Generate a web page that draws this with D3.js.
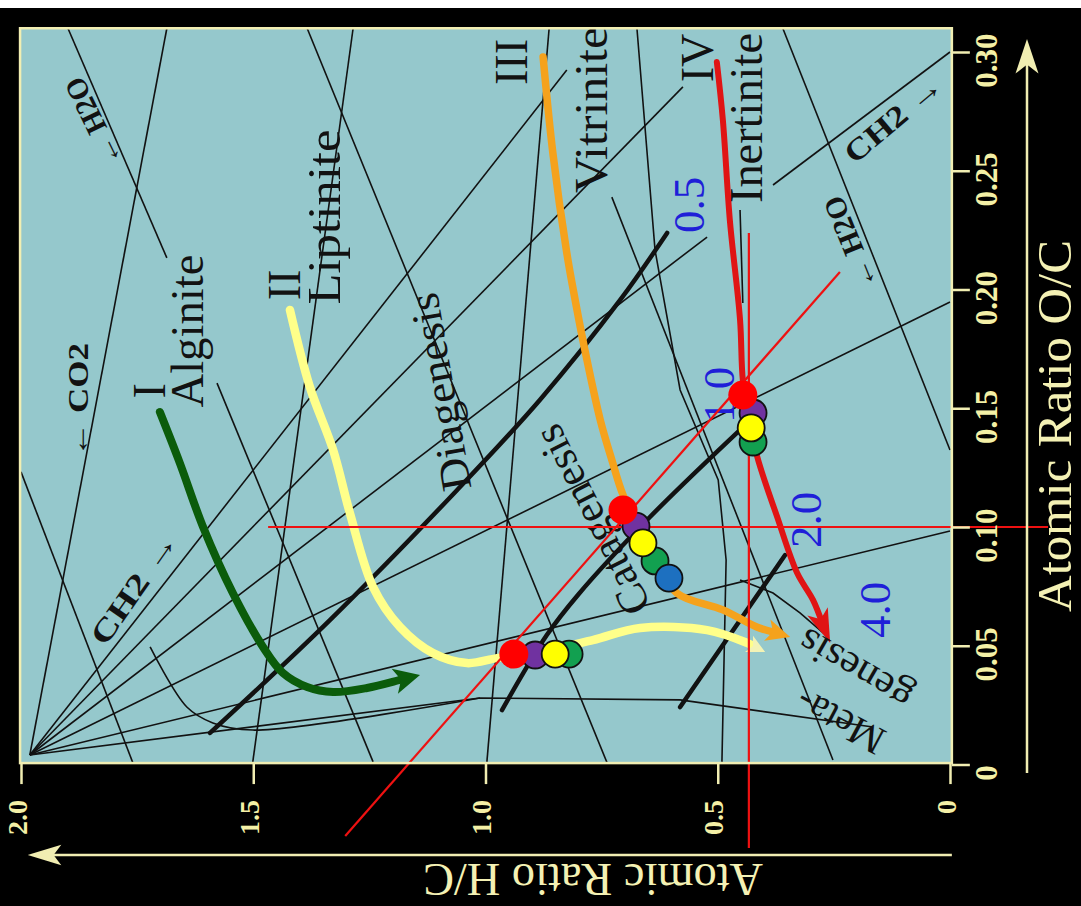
<!DOCTYPE html>
<html>
<head>
<meta charset="utf-8">
<script src="https://cdn.jsdelivr.net/npm/d3@7/dist/d3.min.js"></script>
<style>
html,body{margin:0;padding:0;background:#000;overflow:hidden;}
svg{display:block;}
</style>
</head>
<body>
<svg id="chart" width="1081" height="906"></svg>
<script>
// ================= DATA (atomic ratios [H/C, O/C]) =================
const hcTicks = [2.0, 1.5, 1.0, 0.5, 0];
const hcTickLabels = ["2.0", "1.5", "1.0", "0.5", "0"];
const ocTicks = [0, 0.05, 0.10, 0.15, 0.20, 0.25, 0.30];
const ocTickLabels = ["0", "0.05", "0.10", "0.15", "0.20", "0.25", "0.30"];
const axisTitles = ["Atomic Ratio H/C", "Atomic Ratio O/C"];

// kerogen evolution paths
const typeI   = [[1.701,0.1484],[1.658,0.1269],[1.608,0.1000],[1.544,0.0722],[1.479,0.0495],[1.436,0.0385],[1.384,0.0326],[1.328,0.0305],[1.255,0.0322],[1.184,0.0356],[1.141,0.0377]];
const typeII  = [[1.421,0.1914],[1.378,0.1589],[1.328,0.1324],[1.292,0.1059],[1.242,0.0747],[1.184,0.0579],[1.113,0.0469],[1.040,0.0427],[0.975,0.0448],[0.883,0.0474],[0.769,0.0524],[0.667,0.0575],[0.523,0.0566],[0.437,0.0512],[0.398,0.0474]];
const typeIII = [[0.876,0.2979],[0.855,0.2575],[0.825,0.2154],[0.807,0.1956],[0.786,0.1745],[0.753,0.1451],[0.728,0.1282],[0.704,0.1135],[0.667,0.0987],[0.624,0.0840],[0.588,0.0722],[0.489,0.0651],[0.416,0.0579],[0.344,0.0537]];
const typeIV  = [[0.502,0.2958],[0.489,0.2714],[0.474,0.2293],[0.452,0.1872],[0.446,0.1619],[0.435,0.1493],[0.416,0.1303],[0.372,0.1042],[0.329,0.0806],[0.295,0.0693],[0.258,0.0512]];
const kerogenTypes = ["I", "II", "III", "IV"];
const macerals = ["Alginite", "Liptinite", "Vitrinite", "Inertinite"];

// vitrinite reflectance iso-lines
const ro05 = [[1.593,0.0133],[1.335,0.0608],[1.061,0.1156],[0.883,0.1535],[0.710,0.1956],[0.609,0.2238]];
const ro10 = [[0.9645,0.0229],[0.868,0.0545],[0.801,0.0714],[0.646,0.1042],[0.441,0.1429]];
const ro20 = [[0.581,0.0242],[0.355,0.0882]];
const roLabels = ["0.5", "1.0", "2.0", "4.0"];
const roLabelAt = [[0.560,0.2356],[0.497,0.1556],[0.310,0.1030],[0.161,0.0651]];

// background reference lines of the diagram
const fanOrigin = [1.981, 0.004];
const fanEnds = [[1.686,0.310],[0.825,0.2924],[0.575,0.2853],[0.523,0.2221],[0,0.1947],[0,0.0983]];
const boundaryLine = [[1.981,0.004],[1.012,0.028],[0.581,0.0272],[0.166,0.0158]];
const metaCurve = [[1.722,0.0495],[1.643,0.0242],[1.587,0.0175],[1.501,0.0145],[1.012,0.028]];
const refLines = [
  [[1.899,0.310],[1.686,0.2133]],
  [[2.000,0.1232],[1.759,0.0006]],
  [[1.578,0.1606],[1.242,0.0011]],
  [[1.384,0.310],[0.738,0.0006]],
  [[0.728,0.2389],[0.252,0.0019]],
  [[1.501,0.0011],[1.285,0.310]],
  [[0.997,0.0011],[0.863,0.310]],
  [[0.674,0.310],[0.635,0.2166],[0.581,0.1577],[0.499,0.1198],[0.482,0.0861],[0.491,0.0011]],
  [[0.360,0.310],[0,0.1324]],
  [[0.381,0.2440],[0,0.300]],
  [[0.452,0.2335],[0.446,0.1943]],
  [[0.452,0.0777],[0.381,0.0722],[0.323,0.0638],[0.273,0.0554]]
];

// sample points
const purpleDots = [[0.893,0.0461],[0.676,0.1004],[0.424,0.1480]];
const greenDots  = [[0.820,0.0465],[0.635,0.0857],[0.424,0.1358]];
const blueDots   = [[0.605,0.0785]];
const yellowDots = [[0.850,0.0465],[0.661,0.0933],[0.428,0.1417]];
const redDots    = [[0.939,0.0465],[0.704,0.1072],[0.446,0.1556]];

// red construction lines
const redGuides = [
  [[0.433,0.2238],[0.433,-0.0352]],
  [[1.468,0.1000],[-0.211,0.1000]],
  [[1.302,-0.0301],[0.237,0.2074]]
];

// text annotations (anchor points in H/C, O/C)
const typeLabelAt    = [[1.690,0.1573],[1.399,0.2019],[0.911,0.2958],[0.510,0.2975]];
const maceralLabelAt = [[1.608,0.1825],[1.313,0.2305],[0.738,0.2756],[0.405,0.2722]];
const stageLabels    = ["Diagenesis", "Catagenesis", "Meta-", "genesis"];
const stageLabelAt   = [[1.098,0.1568],[0.771,0.1029],[0.2368,0.0179],[0.2045,0.0398]];
const pathLabels     = ["\u2190 CO2", "CH2 \u2192", "\u2190 H2O", "CH2 \u2192", "\u2190 H2O"];
const pathLabelAt    = [[1.879,0.1535],[1.757,0.0743],[1.845,0.2705],[0.1227,0.2719],[0.2153,0.2196]];

// ================= LAYOUT / STYLE =================
const PALE = "#f1eeb2", TICKC = "#f4f0a6", PANEL = "#95c8cc", INK = "#121212";
const SERIF = "'Liberation Serif','Times New Roman',serif";
const maceralLen = [153, 175, 166, 170];
const stageAngle = [-100, -117, -152, -150], stageLen = [200, 207, 95, 125];
const pathAngle = [-90, -55, -116, -40, -112], pathLen = [114, 130, 95, 118, 98];

const svg = d3.select("#chart");
const x = d3.scaleLinear().domain([2.0, 0]).range([21, 950]);
const y = d3.scaleLinear().domain([0, 0.30]).range([764.5, 52]);
const P = d => [x(d[0]), y(d[1])];
const line = d3.line().x(d => x(d[0])).y(d => y(d[1]));
const smoothPx = d3.line().curve(d3.curveCatmullRom.alpha(0.5));

svg.append("rect").attr("width", 1081).attr("height", 906).attr("fill", "#000");
svg.append("rect").attr("width", 1081).attr("height", 8).attr("fill", "#fff");

const px0 = x(2.002), px1 = x(-0.004), py0 = y(0.310), py1 = y(0.0006);
svg.append("rect").attr("x", px0).attr("y", py0).attr("width", px1 - px0).attr("height", py1 - py0).attr("fill", PANEL);
svg.append("clipPath").attr("id", "pc").append("rect")
  .attr("x", px0).attr("y", py0).attr("width", px1 - px0).attr("height", py1 - py0);

const plot = svg.append("g").attr("clip-path", "url(#pc)");

// thin reference lines
const thin = plot.append("g").attr("fill", "none").attr("stroke", INK).attr("stroke-width", 1.6);
fanEnds.forEach(e => thin.append("path").attr("d", line([fanOrigin, e])));
thin.append("path").attr("d", line(boundaryLine));
thin.append("path").attr("d", d3.line().x(d => x(d[0])).y(d => y(d[1])).curve(d3.curveCatmullRom)(metaCurve));
refLines.forEach(l => thin.append("path").attr("d", line(l)));

// thick reflectance lines
const thick = plot.append("g").attr("fill", "none").attr("stroke", INK).attr("stroke-width", 4.5).attr("stroke-linecap", "round");
[ro05, ro10, ro20].forEach(l => thick.append("path")
  .attr("d", d3.line().x(d => x(d[0])).y(d => y(d[1])).curve(d3.curveCatmullRom)(l)));

// labels
function rotText(g, txt, pt, angle, size, len, baseline, color, weight) {
  const t = g.append("text")
    .attr("transform", `translate(${x(pt[0])},${y(pt[1])}) rotate(${angle})`)
    .attr("text-anchor", "middle")
    .attr("dominant-baseline", baseline)
    .attr("fill", color)
    .style("font-family", SERIF).style("font-size", size + "px").style("font-weight", weight || "normal")
    .text(txt);
  if (len) t.attr("textLength", len).attr("lengthAdjust", "spacingAndGlyphs");
  return t;
}
const lab = svg.append("g");
kerogenTypes.forEach((t, i) => rotText(lab, t, typeLabelAt[i], -90, 46, null, "alphabetic", INK));
macerals.forEach((t, i) => rotText(lab, t, maceralLabelAt[i], -90, 46, maceralLen[i], "alphabetic", INK));
stageLabels.forEach((t, i) => rotText(lab, t, stageLabelAt[i], stageAngle[i], i < 2 ? 43 : 40, stageLen[i], "central", INK));
pathLabels.forEach((t, i) => rotText(lab, t, pathLabelAt[i], pathAngle[i], 30, pathLen[i], "central", INK, "bold"));
roLabels.forEach((t, i) => rotText(lab, t, roLabelAt[i], -90, 44, 56, "central", "#1f1fd8"));

// kerogen paths with arrowheads
function pathWithArrow(g, pts, color, width, len, half, headColor) {
  const s = pts.map(P);
  const n = s.length;
  const [tx, ty] = s[n - 1], [qx, qy] = s[n - 2];
  let dx = tx - qx, dy = ty - qy; const L = Math.hypot(dx, dy); dx /= L; dy /= L;
  const bx = tx - dx * len * 0.6, by = ty - dy * len * 0.6;
  const body = s.slice(0, n - 1).concat([[bx, by]]);
  g.append("path").attr("d", smoothPx(body)).attr("fill", "none").attr("stroke", color)
    .attr("stroke-width", width).attr("stroke-linecap", "round").attr("stroke-linejoin", "round");
  const cx = tx - dx * len, cy = ty - dy * len;
  g.append("path")
    .attr("d", `M${tx},${ty}L${cx - dy * half},${cy + dx * half}L${cx + dx * len * 0.25},${cy + dy * len * 0.25}L${cx + dy * half},${cy - dx * half}Z`)
    .attr("fill", headColor || color);
}
const curves = plot.append("g");
pathWithArrow(curves, typeI, "#0b5c0b", 8, 26, 13);
pathWithArrow(curves, typeII, "#ffff8a", 8.5, 18, 9, "#f3f3b6");
pathWithArrow(curves, typeIII, "#f5a21c", 7.5, 24, 11);
pathWithArrow(curves, typeIV, "#e01414", 6, 34, 11);

// red guide lines
const rg = svg.append("g").attr("stroke", "#ee1111").attr("stroke-width", 2.2).attr("fill", "none");
redGuides.forEach(l => rg.append("path").attr("d", line(l)));

// sample dots
const dots = svg.append("g");
function drawDots(arr, fill, r, stroke) {
  dots.selectAll(null).data(arr).enter().append("circle")
    .attr("cx", d => x(d[0])).attr("cy", d => y(d[1])).attr("r", r)
    .attr("fill", fill).attr("stroke", stroke ? "#111" : "none").attr("stroke-width", 1.8);
}
drawDots(purpleDots, "#7032a0", 13.5, true);
drawDots(greenDots, "#12a050", 13.5, true);
drawDots(blueDots, "#1d70c0", 13.5, true);
drawDots(yellowDots, "#ffff00", 13.5, true);
drawDots(redDots, "#ff0000", 14.5, false);

// panel border
svg.append("rect").attr("x", px0).attr("y", py0).attr("width", px1 - px0).attr("height", py1 - py0)
  .attr("fill", "none").attr("stroke", PALE).attr("stroke-width", 2.5);

// axes
const gx = svg.append("g").attr("transform", `translate(0,${py1})`)
  .call(d3.axisBottom(x).tickValues(hcTicks).tickFormat((d, i) => hcTickLabels[i]).tickSize(21).tickSizeOuter(0));
gx.select(".domain").remove();
gx.selectAll(".tick line").attr("stroke", PALE).attr("stroke-width", 2.5);
gx.selectAll(".tick text").attr("x", 0).attr("y", 0).attr("dy", 0)
  .attr("transform", "translate(5,37) rotate(-90)").attr("text-anchor", "end").attr("fill", TICKC)
  .style("font-family", SERIF).style("font-size", "28px").style("font-weight", "bold");

const gy = svg.append("g").attr("transform", `translate(${px1},0)`)
  .call(d3.axisRight(y).tickValues(ocTicks).tickFormat((d, i) => ocTickLabels[i]).tickSize(18).tickSizeOuter(0));
gy.select(".domain").remove();
gy.selectAll(".tick line").attr("stroke", PALE).attr("stroke-width", 2.5);
gy.selectAll(".tick text").attr("x", 0).attr("y", 0).attr("dy", 0)
  .attr("transform", "translate(45,8) rotate(-90)").attr("text-anchor", "middle").attr("fill", TICKC)
  .style("font-family", SERIF).style("font-size", "31px").style("font-weight", "bold");

// axis arrows
const ax = svg.append("g").attr("stroke", PALE).attr("stroke-width", 2.5).attr("fill", PALE);
ax.append("line").attr("x1", 1027).attr("y1", 773).attr("x2", 1027).attr("y2", 50);
ax.append("path").attr("d", "M1027,43L1018,70L1027,63L1036,70Z");
ax.append("line").attr("x1", px1).attr("y1", 855).attr("x2", 40).attr("y2", 855);
ax.append("path").attr("d", "M32,855L58,847L52,855L58,863Z");

// axis titles
svg.append("text").attr("transform", "translate(593,864) rotate(180)").attr("text-anchor", "middle")
  .attr("fill", "#f4f1b4").style("font-family", SERIF).style("font-size", "46px")
  .attr("textLength", 340).attr("lengthAdjust", "spacingAndGlyphs").text(axisTitles[0]);
svg.append("text").attr("transform", "translate(1071,426) rotate(-90)").attr("text-anchor", "middle")
  .attr("fill", "#f4f1b4").style("font-family", SERIF).style("font-size", "48px")
  .attr("textLength", 372).attr("lengthAdjust", "spacingAndGlyphs").text(axisTitles[1]);
</script>
</body>
</html>
